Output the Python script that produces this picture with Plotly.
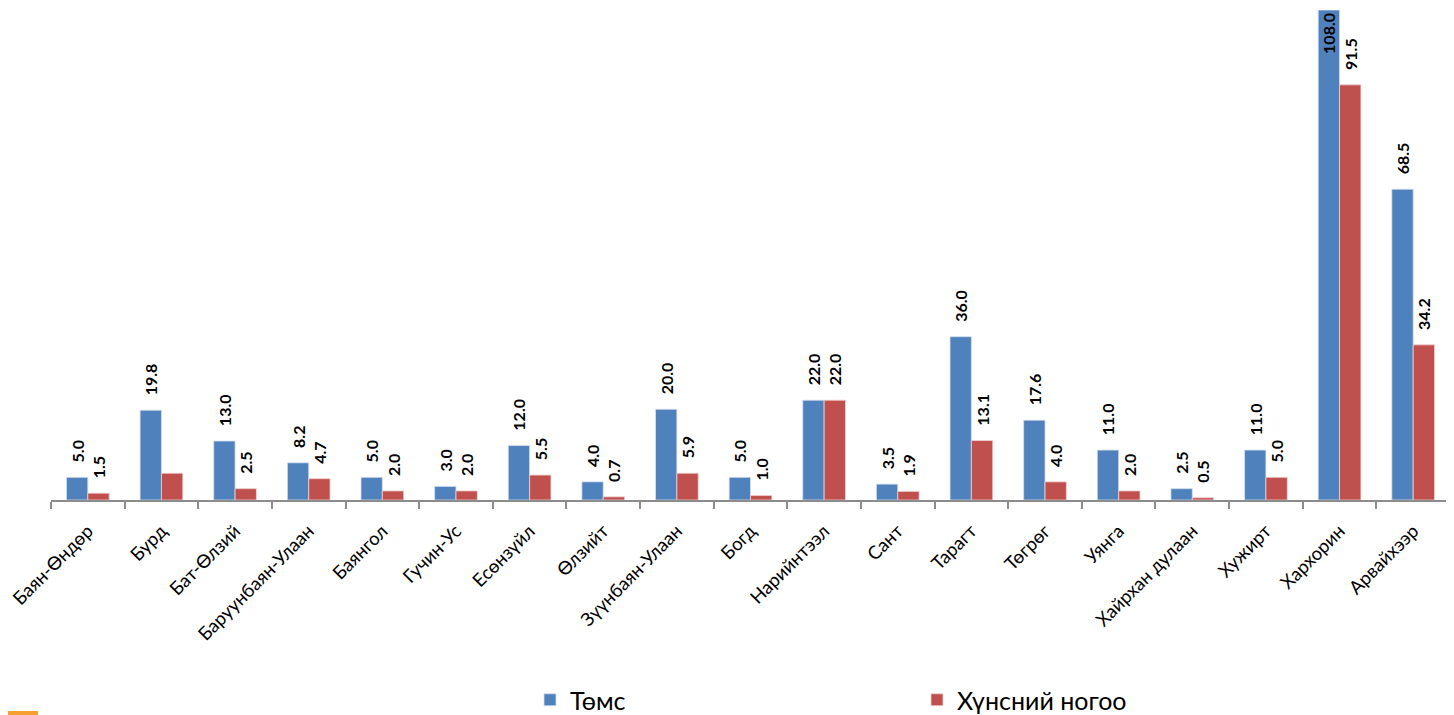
import plotly.graph_objects as go

categories = ["Баян-Өндөр", "Бурд", "Бат-Өлзий", "Баруунбаян-Улаан", "Баянгол", "Гучин-Ус",
              "Есөнзүйл", "Өлзийт", "Зүүнбаян-Улаан", "Богд", "Нарийнтээл", "Сант", "Тарагт",
              "Төгрөг", "Уянга", "Хайрхан дулаан", "Хужирт", "Хархорин", "Арвайхээр"]
tomato = [5.0, 19.8, 13.0, 8.2, 5.0, 3.0, 12.0, 4.0, 20.0, 5.0, 22.0, 3.5, 36.0, 17.6, 11.0, 2.5, 11.0, 108.0, 68.5]
veg = [1.5, 5.9, 2.5, 4.7, 2.0, 2.0, 5.5, 0.7, 5.9, 1.0, 22.0, 1.9, 13.1, 4.0, 2.0, 0.5, 5.0, 91.5, 34.2]
veg_labeled = [True, False, True, True, True, True, True, True, True, True, True, True, True,
               True, True, True, True, True, True]
series_names = ["Төмс", "Хүнсний ногоо"]

BLUE = "#4F81BD"
RED = "#C0504D"
FONT = "Lato, 'Open Sans', sans-serif"
PAD = "\u2002\u00a0"

tomato_pos = ["inside" if v > 100 else "outside" for v in tomato]
tomato_text = [f"{v:.1f}" if p == "inside" else PAD + f"{v:.1f}" for v, p in zip(tomato, tomato_pos)]
veg_text = [PAD + f"{v:.1f}" if lab else "" for v, lab in zip(veg, veg_labeled)]

W, H = 1454, 715
ML, MR, MT, MB = 43, 12, 2, 223
PW, PH = W - ML - MR, H - MT - MB

fig = go.Figure()
fig.add_trace(go.Bar(
    x=categories, y=tomato, name=series_names[0],
    marker=dict(color=BLUE, line=dict(color="#D6E0EE", width=0.8)),
    text=tomato_text, textposition=tomato_pos, textangle=-90,
    insidetextanchor="end",
    textfont=dict(family=FONT, size=16, color="black", weight="bold"),
    cliponaxis=False,
))
fig.add_trace(go.Bar(
    x=categories, y=veg, name=series_names[1],
    marker=dict(color=RED, line=dict(color="#EFD3D2", width=0.8)),
    text=veg_text, textposition="outside", textangle=-90,
    textfont=dict(family=FONT, size=16, color="black", weight="bold"),
    cliponaxis=False,
))

fig.update_layout(
    width=W, height=H,
    margin=dict(l=ML, r=MR, t=MT, b=MB, autoexpand=False),
    plot_bgcolor="white", paper_bgcolor="white",
    barmode="group", bargap=0.42, bargroupgap=0,
    font=dict(family=FONT, size=14, color="black"),
    uniformtext=dict(minsize=16, mode="show"),
    showlegend=True,
    legend=dict(orientation="h", x=(530 - 8 - ML) / PW, xanchor="left", y=-MB / PH, yanchor="bottom",
                entrywidth=342, entrywidthmode="pixels",
                font=dict(family=FONT, size=25, color="black"),
                itemwidth=30, traceorder="normal"),
    xaxis=dict(
        tickangle=-45, showline=True, linecolor="#8C8C8C", linewidth=2,
        ticks="outside", tickson="boundaries", ticklen=7, tickcolor="#8C8C8C", tickwidth=2,
        tickfont=dict(family=FONT, size=18.5, color="black"),
        ticklabelstandoff=11, automargin=False,
        showgrid=False, zeroline=False,
    ),
    yaxis=dict(range=[0, 108.0], visible=False, showgrid=False, zeroline=False, automargin=False),
    shapes=[dict(type="rect", xref="paper", yref="paper",
                 x0=-ML / PW, x1=(30 - ML) / PW, y0=-(707 - MT - PH) / PH, y1=-(703 - MT - PH) / PH,
                 fillcolor="#F5A030", line=dict(width=0), layer="above")],
)

fig.write_html("out.html")
